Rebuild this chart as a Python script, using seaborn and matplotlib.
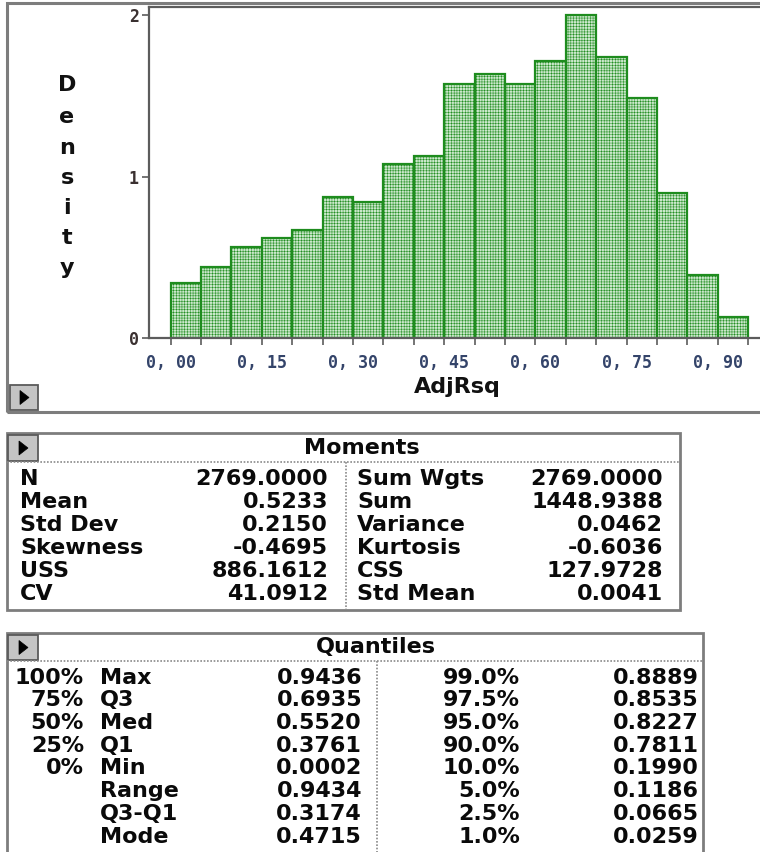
import numpy as np
import pandas as pd
import seaborn as sns
import matplotlib
matplotlib.use("Agg")
import matplotlib.pyplot as plt
from matplotlib.patches import Rectangle, Polygon
from matplotlib.lines import Line2D

# ---------------- data ----------------
bin_left = [0.00, 0.05, 0.10, 0.15, 0.20, 0.25, 0.30, 0.35, 0.40, 0.45,
            0.50, 0.55, 0.60, 0.65, 0.70, 0.75, 0.80, 0.85, 0.90]
density = [0.344, 0.443, 0.567, 0.618, 0.670, 0.876, 0.841, 1.076, 1.127, 1.571,
           1.635, 1.571, 1.715, 2.000, 1.742, 1.484, 0.900, 0.391, 0.134]
bin_edges = [0.00, 0.05, 0.10, 0.15, 0.20, 0.25, 0.30, 0.35, 0.40, 0.45,
             0.50, 0.55, 0.60, 0.65, 0.70, 0.75, 0.80, 0.85, 0.90, 0.95]
x_major = [0.00, 0.15, 0.30, 0.45, 0.60, 0.75, 0.90]
x_major_labels = ["0, 00", "0, 15", "0, 30", "0, 45", "0, 60", "0, 75", "0, 90"]
y_ticks = [0, 1, 2]
y_tick_labels = ["0", "1", "2"]
x_title = "AdjRsq"
y_title = "Density"

mom_left_labels = ["N", "Mean", "Std Dev", "Skewness", "USS", "CV"]
mom_left_values = ["2769.0000", "0.5233", "0.2150", "-0.4695", "886.1612", "41.0912"]
mom_right_labels = ["Sum Wgts", "Sum", "Variance", "Kurtosis", "CSS", "Std Mean"]
mom_right_values = ["2769.0000", "1448.9388", "0.0462", "-0.6036", "127.9728", "0.0041"]

q_pct = ["100%", "75%", "50%", "25%", "0%", "", "", ""]
q_names = ["Max", "Q3", "Med", "Q1", "Min", "Range", "Q3-Q1", "Mode"]
q_values = ["0.9436", "0.6935", "0.5520", "0.3761", "0.0002", "0.9434", "0.3174", "0.4715"]
q_right_pct = ["99.0%", "97.5%", "95.0%", "90.0%", "10.0%", "5.0%", "2.5%", "1.0%"]
q_right_values = ["0.8889", "0.8535", "0.8227", "0.7811", "0.1990", "0.1186", "0.0665", "0.0259"]

# ---------------- figure ----------------
W, H = 760, 852
sns.set_theme(style="white")
plt.rcParams["font.family"] = ["DejaVu Sans Mono", "DejaVu Sans"]
plt.rcParams["hatch.linewidth"] = 0.35
fig = plt.figure(figsize=(W / 100, H / 100), dpi=100)
fig.patch.set_facecolor("white")


def fx(x):
    return x / W


def fy(y):
    return 1 - y / H


BORDER = "#7d7d7d"
TABLE_FONT = ["DejaVu Sans", "DejaVu Sans Mono"]

# outer frame of histogram panel
fig.add_artist(Rectangle((fx(7), fy(412)), fx(800) - fx(7), fy(3) - fy(412),
                         transform=fig.transFigure, fill=False,
                         edgecolor=BORDER, linewidth=2.2))


def button(x0, y0, x1, y1):
    fig.add_artist(Rectangle((fx(x0), fy(y1)), fx(x1) - fx(x0), fy(y0) - fy(y1),
                             transform=fig.transFigure, facecolor="#c4c4c4",
                             edgecolor="#5a5a5a", linewidth=1.3))
    cx, cy = (x0 + x1) / 2, (y0 + y1) / 2
    tri = [(fx(cx - 4), fy(cy - 7)), (fx(cx - 4), fy(cy + 7)), (fx(cx + 5), fy(cy))]
    fig.add_artist(Polygon(tri, closed=True, transform=fig.transFigure,
                           facecolor="black", edgecolor="black", linewidth=0.5))


button(10, 385, 38, 410)

# histogram axes
ax_left, ax_right = 148.7, 770
ax_top, ax_bottom = 6.7, 338.3
ax = fig.add_axes([fx(ax_left), fy(ax_bottom), fx(ax_right) - fx(ax_left),
                   fy(ax_top) - fy(ax_bottom)])
df = pd.DataFrame({"AdjRsq": bin_left, "density": density})
sns.histplot(data=df, x="AdjRsq", weights="density", bins=bin_edges, stat="count",
             ax=ax, facecolor="#cbe8cb", edgecolor="#1e8c1e", linewidth=1.6,
             hatch="++++++", alpha=1.0)
px_per_unit = 30.4 / 0.05
x0 = (ax_left - 170.7) / px_per_unit
ax.set_xlim(x0, x0 + (ax_right - ax_left) / px_per_unit)
ax.set_ylim(0, (ax_bottom - ax_top) / 161.7)
for s in ax.spines.values():
    s.set_visible(True)
    s.set_color("#5c5c5c")
    s.set_linewidth(1.6)
ax.set_xticks(x_major)
ax.set_xticklabels(x_major_labels)
ax.set_xticks(bin_edges, minor=True)
ax.set_yticks(y_ticks)
ax.set_yticklabels(y_tick_labels)
ax.tick_params(axis="x", which="both", direction="out", length=5, width=1.2,
               color="#5c5c5c", bottom=True, labelsize=12, labelcolor="#34446a", pad=6)
ax.tick_params(axis="y", direction="out", length=5, width=1.2, color="#5c5c5c",
               left=True, labelsize=12, labelcolor="#3a3030", pad=2)
for lab in ax.get_xticklabels() + ax.get_yticklabels():
    lab.set_fontweight("bold")
ax.set_xlabel("")
ax.set_ylabel("")

fig.text(fx(457), fy(387), x_title, ha="center", va="center", fontsize=16,
         fontweight="bold", color="#111111", family=TABLE_FONT)
y_letter_pos = [85, 117, 148, 178, 208, 238, 268]
for ch, yp in zip(y_title, y_letter_pos):
    fig.text(fx(67), fy(yp), ch, ha="center", va="center", fontsize=16,
             fontweight="bold", color="#111111", family=TABLE_FONT)

# ---------------- tables ----------------
TFS = 16
TCOL = "#0a0a0a"


def ttext(x, y, s, ha):
    fig.text(fx(x), fy(y), s, ha=ha, va="center", fontsize=TFS, fontweight="bold",
             color=TCOL, family=TABLE_FONT)


def table_box(x0, y0, x1, y1, header, hx, hy, sep_y, div_x):
    fig.add_artist(Rectangle((fx(x0), fy(y1)), fx(x1) - fx(x0), fy(y0) - fy(y1),
                             transform=fig.transFigure, fill=False,
                             edgecolor=BORDER, linewidth=2.0))
    fig.add_artist(Line2D([fx(x0), fx(x1)], [fy(sep_y), fy(sep_y)],
                          transform=fig.transFigure, color="#8a8a8a",
                          linewidth=1.2, linestyle=(0, (1, 1))))
    fig.add_artist(Line2D([fx(div_x), fx(div_x)], [fy(sep_y), fy(y1)],
                          transform=fig.transFigure, color="#8a8a8a",
                          linewidth=1.2, linestyle=(0, (1, 1))))
    button(x0 + 1, y0 + 2, x0 + 31, sep_y - 1)
    ttext(hx, hy, header, "center")


# Moments
table_box(7, 433, 680, 610, "Moments", 362, 448, 462, 346)
mom_rows = [479, 502, 525, 548, 571, 594]
for yy, a, b, c, d in zip(mom_rows, mom_left_labels, mom_left_values,
                          mom_right_labels, mom_right_values):
    ttext(20, yy, a, "left")
    ttext(328, yy, b, "right")
    ttext(357, yy, c, "left")
    ttext(663, yy, d, "right")

# Quantiles
table_box(7, 633, 703, 860, "Quantiles", 376, 647, 661, 377)
q_rows = [678, 700, 723, 746, 768, 791, 814, 837]
for yy, p, n, v, rp, rv in zip(q_rows, q_pct, q_names, q_values, q_right_pct, q_right_values):
    ttext(84, yy, p, "right")
    ttext(100, yy, n, "left")
    ttext(362, yy, v, "right")
    ttext(520, yy, rp, "right")
    ttext(699, yy, rv, "right")

fig.savefig("out.png", dpi=100, facecolor="white")
